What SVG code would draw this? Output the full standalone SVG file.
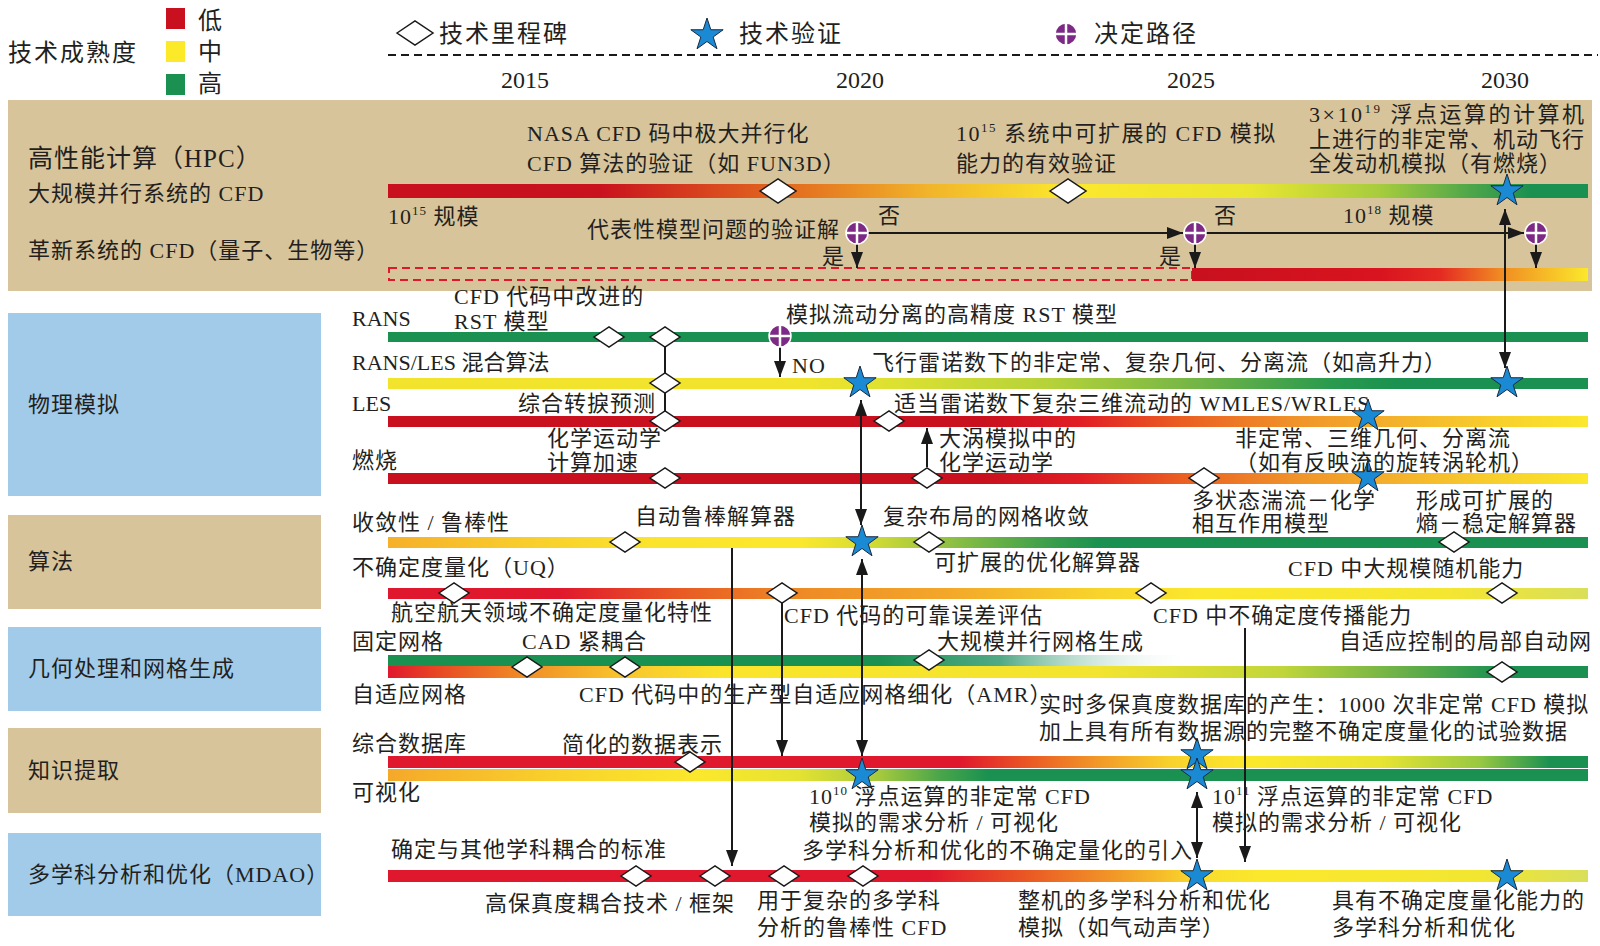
<svg xmlns="http://www.w3.org/2000/svg" xmlns:xlink="http://www.w3.org/1999/xlink" width="1600" height="946" viewBox="0 0 1600 946">
<style>
.t{font-family:"Liberation Serif","Noto Sans CJK SC",serif;font-size:22px;fill:#231f20;letter-spacing:1px}
.lg{font-size:24px;letter-spacing:2px}
.yr{font-size:24px;text-anchor:middle;letter-spacing:0}
.sup{font-size:13px}
.ln{stroke:#1a1a1a;stroke-width:2;fill:none}
.ar{stroke:#1a1a1a;stroke-width:2;fill:none;marker-end:url(#ah)}
.ar2{stroke:#1a1a1a;stroke-width:2;fill:none;marker-end:url(#ah);marker-start:url(#ah)}
.dmd{fill:#fff;stroke:#1a1a1a;stroke-width:1.5}
.st{fill:#1a8ad4;stroke:#1a2a40;stroke-width:1}
.tan{fill:#d8c49a}
.blu{fill:#a2cbe9}
</style>
<defs>
<marker id="ah" viewBox="0 0 16 12" refX="16" refY="6" markerWidth="16" markerHeight="12" markerUnits="userSpaceOnUse" orient="auto-start-reverse"><path d="M0,0 L16,6 L0,12 z" fill="#1a1a1a"/></marker>
<path id="star" d="M0,-17 L3.82,-5.26 L16.17,-5.25 L6.18,2.01 L9.99,13.75 L0,6.5 L-9.99,13.75 L-6.18,2.01 L-16.17,-5.25 L-3.82,-5.26 Z"/>
<path id="dm" d="M-15,0 L0,-10 L15,0 L0,10 Z"/>
<path id="dmL" d="M-18,0 L0,-12 L18,0 L0,12 Z"/>
<g id="dec"><circle r="11" fill="#7d2a86" stroke="#fff" stroke-width="1.5"/><path d="M-11,0 H11 M0,-11 V11" stroke="#fff" stroke-width="2.5"/></g>
<linearGradient id="gHPC" gradientUnits="userSpaceOnUse" x1="388" y1="0" x2="1588" y2="0">
<stop offset="0" stop-color="#c8101e"/><stop offset="0.177" stop-color="#c9121e"/><stop offset="0.327" stop-color="#e2671e"/><stop offset="0.452" stop-color="#f1b52a"/><stop offset="0.568" stop-color="#fbe82c"/><stop offset="0.718" stop-color="#eae630"/><stop offset="0.827" stop-color="#a6cc3e"/><stop offset="0.902" stop-color="#4ea64a"/><stop offset="0.952" stop-color="#1a9150"/><stop offset="1" stop-color="#1a9150"/>
</linearGradient>
<linearGradient id="gInno" gradientUnits="userSpaceOnUse" x1="1192" y1="0" x2="1588" y2="0">
<stop offset="0" stop-color="#c8101e"/><stop offset="0.475" stop-color="#d8141f"/><stop offset="0.626" stop-color="#e42a22"/><stop offset="0.778" stop-color="#f08a22"/><stop offset="1" stop-color="#fbe82c"/>
</linearGradient>
<linearGradient id="gRL" gradientUnits="userSpaceOnUse" x1="388" y1="0" x2="1588" y2="0">
<stop offset="0" stop-color="#f2e42c"/><stop offset="0.343" stop-color="#f2e42c"/><stop offset="0.427" stop-color="#dbe032"/><stop offset="0.552" stop-color="#b5d23a"/><stop offset="0.677" stop-color="#72b447"/><stop offset="0.785" stop-color="#2a9a4e"/><stop offset="0.843" stop-color="#1a9150"/><stop offset="1" stop-color="#1a9150"/>
</linearGradient>
<linearGradient id="gLES" gradientUnits="userSpaceOnUse" x1="388" y1="0" x2="1588" y2="0">
<stop offset="0" stop-color="#c8101e"/><stop offset="0.493" stop-color="#c8101e"/><stop offset="0.577" stop-color="#e11e25"/><stop offset="0.66" stop-color="#ea5e22"/><stop offset="0.76" stop-color="#f0952a"/><stop offset="0.885" stop-color="#f6c22c"/><stop offset="1" stop-color="#fbe82c"/>
</linearGradient>
<linearGradient id="gConv" gradientUnits="userSpaceOnUse" x1="388" y1="0" x2="1588" y2="0">
<stop offset="0" stop-color="#f6b02a"/><stop offset="0.11" stop-color="#f8cc2c"/><stop offset="0.218" stop-color="#fbe42c"/><stop offset="0.343" stop-color="#fbe82c"/><stop offset="0.402" stop-color="#d4dc34"/><stop offset="0.477" stop-color="#86bd44"/><stop offset="0.552" stop-color="#3a9e4c"/><stop offset="0.593" stop-color="#1a9150"/><stop offset="1" stop-color="#1a9150"/>
</linearGradient>
<linearGradient id="gUQ" gradientUnits="userSpaceOnUse" x1="388" y1="0" x2="1588" y2="0">
<stop offset="0" stop-color="#e0182d"/><stop offset="0.143" stop-color="#e0182d"/><stop offset="0.243" stop-color="#e85a24"/><stop offset="0.343" stop-color="#ee8a26"/><stop offset="0.468" stop-color="#f3a82a"/><stop offset="0.593" stop-color="#f8d42c"/><stop offset="0.677" stop-color="#fbe82c"/><stop offset="0.885" stop-color="#f4e632"/><stop offset="1" stop-color="#d9df5a"/>
</linearGradient>
<linearGradient id="gFix" gradientUnits="userSpaceOnUse" x1="388" y1="0" x2="1588" y2="0">
<stop offset="0" stop-color="#1a9150"/><stop offset="0.41" stop-color="#1a9150"/><stop offset="0.51" stop-color="#3e9f78" stop-opacity="0.9"/><stop offset="0.6725" stop-color="#ffffff" stop-opacity="0"/><stop offset="1" stop-color="#ffffff" stop-opacity="0"/>
</linearGradient>
<linearGradient id="gAd" gradientUnits="userSpaceOnUse" x1="388" y1="0" x2="1588" y2="0">
<stop offset="0" stop-color="#e0182d"/><stop offset="0.043" stop-color="#e84a24"/><stop offset="0.11" stop-color="#f08a26"/><stop offset="0.193" stop-color="#f8c42c"/><stop offset="0.277" stop-color="#fbe42c"/><stop offset="0.593" stop-color="#f2e430"/><stop offset="0.743" stop-color="#c2d63a"/><stop offset="0.843" stop-color="#6cb148"/><stop offset="0.927" stop-color="#1a9150"/><stop offset="1" stop-color="#1a9150"/>
</linearGradient>
<linearGradient id="gDB" gradientUnits="userSpaceOnUse" x1="388" y1="0" x2="1588" y2="0">
<stop offset="0" stop-color="#e0182d"/><stop offset="0.477" stop-color="#e0182d"/><stop offset="0.535" stop-color="#ea5a24"/><stop offset="0.593" stop-color="#f29a28"/><stop offset="0.652" stop-color="#f8d22c"/><stop offset="0.718" stop-color="#fbe82c"/><stop offset="0.827" stop-color="#e8e432"/><stop offset="0.91" stop-color="#98c842"/><stop offset="0.968" stop-color="#1a9150"/><stop offset="1" stop-color="#1a9150"/>
</linearGradient>
<linearGradient id="gVis" gradientUnits="userSpaceOnUse" x1="388" y1="0" x2="1588" y2="0">
<stop offset="0" stop-color="#f5a82a"/><stop offset="0.143" stop-color="#f9d22c"/><stop offset="0.26" stop-color="#fbe82c"/><stop offset="0.343" stop-color="#e4e232"/><stop offset="0.41" stop-color="#a4c93e"/><stop offset="0.46" stop-color="#4aa54a"/><stop offset="0.5" stop-color="#1a9150"/><stop offset="1" stop-color="#1a9150"/>
</linearGradient>
<linearGradient id="gMD" gradientUnits="userSpaceOnUse" x1="388" y1="0" x2="1588" y2="0">
<stop offset="0" stop-color="#e0182d"/><stop offset="0.452" stop-color="#e0182d"/><stop offset="0.535" stop-color="#ea5a24"/><stop offset="0.61" stop-color="#f29c28"/><stop offset="0.677" stop-color="#f9dc2c"/><stop offset="0.727" stop-color="#fbe82c"/><stop offset="0.91" stop-color="#f2e632"/><stop offset="1" stop-color="#d9df5a"/>
</linearGradient>
</defs>
<rect width="1600" height="946" fill="#fff"/>

<g id="legend">
<text class="t lg" x="8" y="61">技术成熟度</text>
<rect x="166" y="8" width="19" height="21" fill="#c8101e"/>
<rect x="166" y="41" width="19" height="21" fill="#fcea2a"/>
<rect x="166" y="74" width="19" height="21" fill="#1a9150"/>
<text class="t lg" x="198" y="29">低</text>
<text class="t lg" x="198" y="60">中</text>
<text class="t lg" x="198" y="92">高</text>
<use href="#dmL" x="415" y="33" class="dmd"/>
<text class="t lg" x="439" y="42">技术里程碑</text>
<use href="#star" x="707" y="35" class="st"/>
<text class="t lg" x="739" y="42">技术验证</text>
<use href="#dec" x="1066" y="34"/>
<text class="t lg" x="1094" y="42">决定路径</text>
</g>

<g id="timeline">
<line x1="388" y1="55" x2="1598" y2="55" stroke="#1a1a1a" stroke-width="2" stroke-dasharray="8 5"/>
<text class="t yr" x="525" y="88">2015</text>
<text class="t yr" x="860" y="88">2020</text>
<text class="t yr" x="1191" y="88">2025</text>
<text class="t yr" x="1505" y="88">2030</text>
</g>

<g id="panels">
<rect class="tan" x="8" y="100" width="1584" height="191"/>
<rect class="blu" x="8" y="313" width="313" height="183"/>
<rect class="tan" x="8" y="515" width="313" height="94"/>
<rect class="blu" x="8" y="627" width="313" height="84"/>
<rect class="tan" x="8" y="728" width="313" height="85"/>
<rect class="blu" x="8" y="833" width="313" height="83"/>
<text class="t" x="28" y="167" style="font-size:25px">高性能计算（HPC）</text>
<text class="t" x="28" y="201">大规模并行系统的 CFD</text>
<text class="t" x="28" y="258">革新系统的 CFD（量子、生物等）</text>
<text class="t" x="28" y="412">物理模拟</text>
<text class="t" x="28" y="569">算法</text>
<text class="t" x="28" y="676">几何处理和网格生成</text>
<text class="t" x="28" y="778">知识提取</text>
<text class="t" x="28" y="882">多学科分析和优化（MDAO）</text>
</g>

<g id="row-labels">
<text class="t" x="352" y="326" style="letter-spacing:0">RANS</text>
<text class="t" x="352" y="370" style="letter-spacing:0">RANS/LES 混合算法</text>
<text class="t" x="352" y="411" style="letter-spacing:0">LES</text>
<text class="t" x="352" y="468">燃烧</text>
<text class="t" x="352" y="530">收敛性 / 鲁棒性</text>
<text class="t" x="352" y="575">不确定度量化（UQ）</text>
<text class="t" x="352" y="649">固定网格</text>
<text class="t" x="352" y="702">自适应网格</text>
<text class="t" x="352" y="751">综合数据库</text>
<text class="t" x="352" y="800">可视化</text>
</g>

<g id="bars">
<rect x="388" y="184" width="1200" height="14" fill="url(#gHPC)"/>
<rect x="389" y="268" width="803" height="12" fill="none" stroke="#e0182d" stroke-width="2" stroke-dasharray="8 5"/>
<rect x="1192" y="268" width="396" height="13" fill="url(#gInno)"/>
<rect x="388" y="332" width="1200" height="10" fill="#1a9150"/>
<rect x="388" y="378" width="1200" height="11" fill="url(#gRL)"/>
<rect x="388" y="416" width="1200" height="11" fill="url(#gLES)"/>
<rect x="388" y="473" width="1200" height="11" fill="url(#gLES)"/>
<rect x="388" y="537" width="1200" height="11" fill="url(#gConv)"/>
<rect x="388" y="588" width="1200" height="11" fill="url(#gUQ)"/>
<rect x="388" y="655" width="1200" height="11" fill="url(#gFix)"/>
<rect x="388" y="666" width="1200" height="12" fill="url(#gAd)"/>
<rect x="388" y="756" width="1200" height="12" fill="url(#gDB)"/>
<rect x="388" y="769" width="1200" height="12" fill="url(#gVis)"/>
<rect x="388" y="870" width="1200" height="12" fill="url(#gMD)"/>
</g>

<g id="connectors">
<path class="ar" d="M868,233 H1183"/>
<path class="ar" d="M1206,233 H1524"/>
<path class="ar" d="M857,244 V268"/>
<path class="ar" d="M1195,244 V268"/>
<path class="ar" d="M1536,244 V268"/>
<path class="ar2" d="M1505,209 V368"/>
<path class="ln" d="M665,337 V421"/>
<path class="ar" d="M780,347 V377"/>
<path class="ar2" d="M861,400 V525"/>
<path class="ar" d="M927,467 V428"/>
<path class="ar2" d="M862,559 V756"/>
<path class="ar" d="M732,548 V866"/>
<path class="ar" d="M782,603 V756"/>
<path class="ar" d="M1245,628 V862"/>
<path class="ar2" d="M1197,792 V858"/>
</g>

<g id="hpc-scale"><text class="t" x="388" y="224">10<tspan class="sup" dy="-9">15</tspan><tspan dy="9"> 规模</tspan></text></g>
<g id="m-nasa"><use href="#dmL" x="778" y="191" class="dmd"/><text class="t" x="527" y="141">NASA CFD 码中极大并行化</text><text class="t" x="527" y="171">CFD 算法的验证（如 FUN3D）</text></g>
<g id="m-scalable"><use href="#dmL" x="1068" y="191" class="dmd"/><text class="t" x="956" y="141" style="letter-spacing:1.5px">10<tspan class="sup" dy="-9">15</tspan><tspan dy="9"> 系统中可扩展的 CFD 模拟</tspan></text><text class="t" x="956" y="171">能力的有效验证</text></g>
<g id="v-engine"><use href="#star" x="1507" y="191" class="st"/><text class="t" x="1309" y="122" style="letter-spacing:2.5px">3×10<tspan class="sup" dy="-9">19</tspan><tspan dy="9"> 浮点运算的计算机</tspan></text><text class="t" x="1309" y="147">上进行的非定常、机动飞行</text><text class="t" x="1309" y="171">全发动机模拟（有燃烧）</text></g>
<g id="d-1"><use href="#dec" x="857" y="233"/><text class="t" x="587" y="237">代表性模型问题的验证解</text><text class="t" x="878" y="223">否</text><text class="t" x="822" y="264">是</text></g>
<g id="d-2"><use href="#dec" x="1195" y="233"/><text class="t" x="1214" y="223">否</text><text class="t" x="1159" y="264">是</text></g>
<g id="d-3"><use href="#dec" x="1536" y="233"/><text class="t" x="1343" y="223">10<tspan class="sup" dy="-9">18</tspan><tspan dy="9"> 规模</tspan></text></g>

<g id="m-rst1"><use href="#dm" x="609" y="337" class="dmd"/><text class="t" x="454" y="304">CFD 代码中改进的</text><text class="t" x="454" y="329">RST 模型</text></g>
<g id="m-trans"><use href="#dm" x="665" y="337" class="dmd"/><use href="#dm" x="665" y="383" class="dmd"/><use href="#dm" x="665" y="421" class="dmd"/><text class="t" x="518" y="411">综合转捩预测</text></g>
<g id="d-rans"><use href="#dec" x="780" y="336"/><text class="t" x="786" y="322">模拟流动分离的高精度 RST 模型</text><text class="t" x="792" y="373">NO</text></g>
<g id="v-rl1"><use href="#star" x="860" y="383" class="st"/><text class="t" x="872" y="370">飞行雷诺数下的非定常、复杂几何、分离流（如高升力）</text></g>
<g id="v-rl2"><use href="#star" x="1507" y="383" class="st"/></g>
<g id="m-wmles"><use href="#dm" x="889" y="421" class="dmd"/><text class="t" x="894" y="411">适当雷诺数下复杂三维流动的 WMLES/WRLES</text></g>
<g id="v-les"><use href="#star" x="1368" y="416" class="st"/></g>
<g id="m-chem"><use href="#dm" x="665" y="478" class="dmd"/><text class="t" x="547" y="446">化学运动学</text><text class="t" x="547" y="470">计算加速</text></g>
<g id="m-leschem"><use href="#dm" x="927" y="478" class="dmd"/><text class="t" x="939" y="446">大涡模拟中的</text><text class="t" x="939" y="470">化学运动学</text></g>
<g id="m-multi"><use href="#dm" x="1204" y="478" class="dmd"/><text class="t" x="1192" y="508">多状态湍流－化学</text><text class="t" x="1192" y="531">相互作用模型</text></g>
<g id="v-comb"><use href="#star" x="1368" y="477" class="st"/><text class="t" x="1235" y="446">非定常、三维几何、分离流</text><text class="t" x="1235" y="470">（如有反映流的旋转涡轮机）</text></g>

<g id="m-auto"><use href="#dm" x="625" y="542" class="dmd"/><text class="t" x="635" y="524">自动鲁棒解算器</text></g>
<g id="v-conv"><use href="#star" x="862" y="542" class="st"/><text class="t" x="883" y="524">复杂布局的网格收敛</text></g>
<g id="m-opt"><use href="#dm" x="929" y="542" class="dmd"/><text class="t" x="934" y="570">可扩展的优化解算器</text></g>
<g id="m-entropy"><use href="#dm" x="1454" y="542" class="dmd"/><text class="t" x="1416" y="508">形成可扩展的</text><text class="t" x="1416" y="531">熵－稳定解算器</text></g>
<g id="m-uq1"><use href="#dm" x="454" y="593" class="dmd"/><text class="t" x="391" y="620">航空航天领域不确定度量化特性</text></g>
<g id="m-uq2"><use href="#dm" x="782" y="593" class="dmd"/><text class="t" x="784" y="623">CFD 代码的可靠误差评估</text></g>
<g id="m-uq3"><use href="#dm" x="1151" y="593" class="dmd"/><text class="t" x="1153" y="623">CFD 中不确定度传播能力</text></g>
<g id="m-uq4"><use href="#dm" x="1502" y="593" class="dmd"/><text class="t" x="1288" y="576">CFD 中大规模随机能力</text></g>

<g id="m-cad"><use href="#dm" x="527" y="667" class="dmd"/><use href="#dm" x="625" y="667" class="dmd"/><text class="t" x="522" y="649">CAD 紧耦合</text><text class="t" x="579" y="702">CFD 代码中的生产型自适应网格细化（AMR）</text></g>
<g id="m-pgrid"><use href="#dm" x="929" y="660" class="dmd"/><text class="t" x="937" y="649">大规模并行网格生成</text></g>
<g id="m-local"><use href="#dm" x="1502" y="672" class="dmd"/><text class="t" x="1339" y="649">自适应控制的局部自动网</text></g>

<g id="m-data"><use href="#dm" x="690" y="762" class="dmd"/><text class="t" x="562" y="752">简化的数据表示</text></g>
<g id="v-vis1"><use href="#star" x="862" y="775" class="st"/><text class="t" x="809" y="804">10<tspan class="sup" dy="-9">10</tspan><tspan dy="9"> 浮点运算的非定常 CFD</tspan></text><text class="t" x="809" y="830">模拟的需求分析 / 可视化</text></g>
<g id="v-db"><use href="#star" x="1197" y="755" class="st"/><use href="#star" x="1197" y="775" class="st"/><text class="t" x="1039" y="712">实时多保真度数据库的产生：1000 次非定常 CFD 模拟</text><text class="t" x="1039" y="739">加上具有所有数据源的完整不确定度量化的试验数据</text><text class="t" x="1212" y="804">10<tspan class="sup" dy="-9">11</tspan><tspan dy="9"> 浮点运算的非定常 CFD</tspan></text><text class="t" x="1212" y="830">模拟的需求分析 / 可视化</text></g>

<g id="m-md1"><use href="#dm" x="636" y="876" class="dmd"/><text class="t" x="391" y="857">确定与其他学科耦合的标准</text></g>
<g id="m-md2"><use href="#dm" x="715" y="876" class="dmd"/><text class="t" x="485" y="911">高保真度耦合技术 / 框架</text></g>
<g id="m-md3"><use href="#dm" x="784" y="876" class="dmd"/><text class="t" x="757" y="908">用于复杂的多学科</text><text class="t" x="757" y="935">分析的鲁棒性 CFD</text></g>
<g id="m-md4"><use href="#dm" x="863" y="876" class="dmd"/><text class="t" x="802" y="858">多学科分析和优化的不确定量化的引入</text></g>
<g id="v-md1"><use href="#star" x="1197" y="876" class="st"/><text class="t" x="1018" y="908">整机的多学科分析和优化</text><text class="t" x="1018" y="935">模拟（如气动声学）</text></g>
<g id="v-md2"><use href="#star" x="1507" y="876" class="st"/><text class="t" x="1332" y="908">具有不确定度量化能力的</text><text class="t" x="1332" y="935">多学科分析和优化</text></g>
</svg>
